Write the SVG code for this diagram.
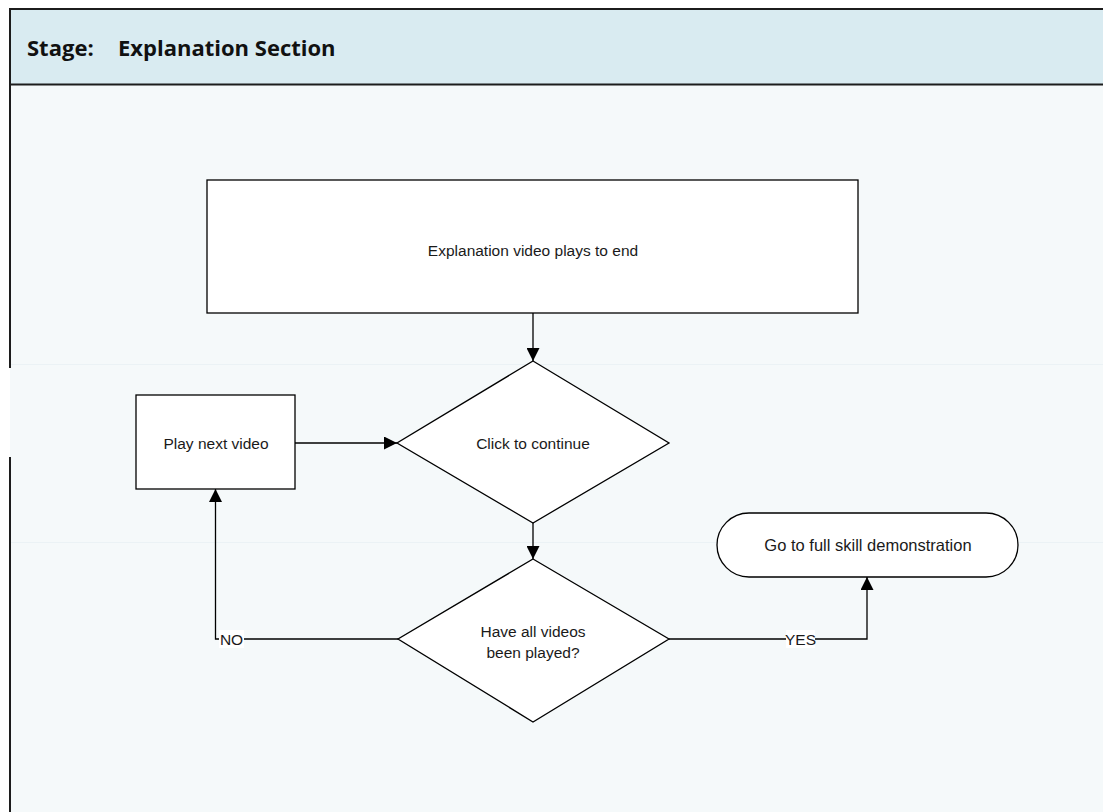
<svg xmlns="http://www.w3.org/2000/svg" width="1103" height="812" viewBox="0 0 1103 812">
  <style>
    .shape { fill: #ffffff; stroke: #000000; stroke-width: 1.3; }
    .edge { fill: none; stroke: #000000; stroke-width: 1.3; }
    .label { font-family: "Liberation Sans", Arial, sans-serif; font-size: 15.5px; fill: #1a1a1a; text-anchor: middle; }
    .edge-label { font-family: "Liberation Sans", Arial, sans-serif; font-size: 15.5px; fill: #1a1a1a; text-anchor: middle; }
    .title { font-family: "Open Sans", "Liberation Sans", Arial, sans-serif; font-size: 22px; font-weight: bold; fill: #111111; }
    .frame { fill: none; stroke: #1c1c1c; stroke-width: 2; }
    .guide { stroke: #ebf2f5; stroke-width: 1; }
  </style>
  <defs>
    <marker id="arrow" viewBox="0 0 10 10" refX="10" refY="5" markerWidth="13" markerHeight="13" markerUnits="userSpaceOnUse" orient="auto">
      <path d="M0,0 L10,5 L0,10 Z" fill="#000000"/>
    </marker>
  </defs>

  <!-- page background -->
  <rect x="0" y="0" width="1103" height="812" fill="#ffffff"/>

  <!-- swimlane body and header -->
  <g id="lane">
    <rect x="10" y="85" width="1093" height="727" fill="#f5f9fa"/>
    <line class="guide" x1="10" y1="364.5" x2="1103" y2="364.5"/>
    <line class="guide" x1="10" y1="542.5" x2="1103" y2="542.5"/>
    <rect x="10" y="9" width="1093" height="76" fill="#d9ebf1"/>
    <line class="frame" x1="9" y1="9" x2="1103" y2="9"/>
    <line class="frame" x1="9" y1="84.5" x2="1103" y2="84.5"/>
    <line class="frame" x1="10" y1="8" x2="10" y2="368"/>
    <line class="frame" x1="10" y1="457" x2="10" y2="812"/>
    <text class="title" x="27" y="56">Stage:</text>
    <text class="title" x="118" y="56">Explanation Section</text>
  </g>

  <!-- connectors -->
  <g id="connectors">
    <path class="edge" d="M533,313 L533,361" marker-end="url(#arrow)"/>
    <path class="edge" d="M295,443 L397,443" marker-end="url(#arrow)"/>
    <path class="edge" d="M533,523 L533,559" marker-end="url(#arrow)"/>
    <path class="edge" d="M398,639 L215.5,639 L215.5,489" marker-end="url(#arrow)"/>
    <path class="edge" d="M669,639 L867,639 L867,577" marker-end="url(#arrow)"/>
    <rect x="219" y="630" width="25" height="18" fill="#ffffff"/>
    <text class="edge-label" x="231.5" y="645">NO</text>
    <rect x="786" y="630" width="29" height="18" fill="#ffffff"/>
    <text class="edge-label" x="800.5" y="645">YES</text>
  </g>

  <g id="node-explanation-video">
    <rect class="shape" x="207" y="180" width="651" height="133"/>
    <text class="label" x="533" y="256">Explanation video plays to end</text>
  </g>

  <g id="node-click-continue">
    <polygon class="shape" points="533,361 669,443 533,523 397,443"/>
    <text class="label" x="533" y="449">Click to continue</text>
  </g>

  <g id="node-play-next">
    <rect class="shape" x="136" y="395" width="159" height="94"/>
    <text class="label" x="216" y="449">Play next video</text>
  </g>

  <g id="node-all-played">
    <polygon class="shape" points="533,559 669,639 533,722 398,639"/>
    <text class="label" x="533" y="637">Have all videos</text>
    <text class="label" x="533" y="658">been played?</text>
  </g>

  <g id="node-full-demo">
    <rect class="shape" x="717" y="513" width="301" height="64" rx="32" ry="32"/>
    <text class="label" x="868" y="551" style="font-size:16.5px">Go to full skill demonstration</text>
  </g>
</svg>
